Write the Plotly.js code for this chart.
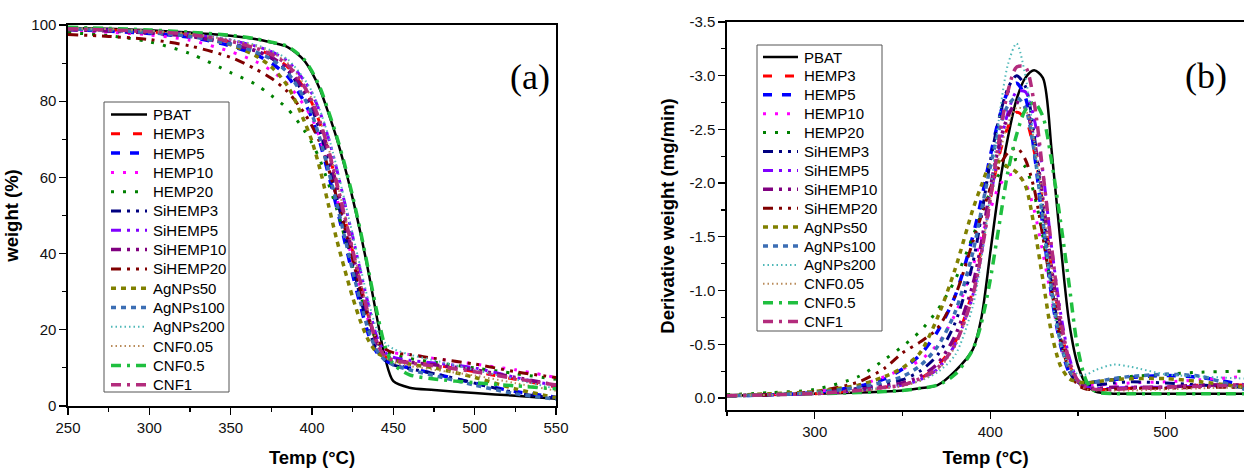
<!DOCTYPE html>
<html><head><meta charset="utf-8">
<script src="https://cdn.plot.ly/plotly-3.0.1.min.js"></script>
<style>html,body{margin:0;padding:0;background:#fff;} #chart{width:1244px;height:468px;}</style>
</head><body><div id="chart"></div>
<script>
// ---------------- data ----------------
const seriesNames = ['PBAT','HEMP3','HEMP5','HEMP10','HEMP20','SiHEMP3','SiHEMP5','SiHEMP10','SiHEMP20','AgNPs50','AgNPs100','AgNPs200','CNF0.05','CNF0.5','CNF1'];

// (a) TGA: weight (%) vs temperature (°C)
const tgaTemp = [250,275,300,325,350,365,375,385,395,400,405,410,415,420,425,430,435,440,445,450,460,475,500,525,550];
const tgaPBAT     = [99.2,99.0,98.6,98.0,97.2, 96.3,95.4,94.2,90.8,87.5, 83,77,70.5,63,54.5, 45,34.5,23,12.5,6.5, 4.8,4.2,3.4,2.7,1.9];
const tgaHEMP3    = [99,98.7,98.2,97.4,95.5, 93.8,92,89,83.5,79.5, 74,67,58.5,49.5,40.5, 31.5,23,16.5,13,12, 11.5,10.8,9,7,5];
const tgaHEMP5    = [98.8,98.4,97.8,96.8,94.5, 92.3,90,86.5,80,75.5, 69,61,52.5,43.5,34.5, 26,18.5,14,12,11, 10,8.5,6,3.8,2.3];
const tgaHEMP10   = [98.6,98.1,97.4,96,93, 90.5,88,84.5,79,75.5, 70,63,55,46.5,38, 29.5,22,17,14.8,14, 13.5,12.5,11,9.5,7.5];
const tgaHEMP20   = [98,97.2,95.6,92.5,87.5, 84.5,81.5,78,72.5,69, 64.5,58.5,52,44.5,36.5, 29,22,17,14.5,13.5, 12.5,11.5,10,8.5,7];
const tgaSiHEMP3  = [99,98.6,98.1,97.2,95.2, 93.3,91.3,88,82,78, 72,64,55,46,37, 28,20,14.5,12,10.8, 9.8,8.5,6,3.5,2];
const tgaSiHEMP5  = [99,98.7,98.3,97.6,96, 94.5,93,90.5,85.5,82, 77,70.5,62.5,53.5,44.5, 35,26,18,14,12.8, 12,11.3,10,7.5,5.3];
const tgaSiHEMP10 = [98.8,98.4,97.9,97,95, 93.3,91.5,88.5,83,79, 73.5,66.5,58,49,40, 31,23,16.5,13.2,12.2, 11.5,10.8,9.5,7.5,5.5];
const tgaSiHEMP20 = [97.5,97,96.2,94.5,91.5, 88.5,86,82.5,77,73.5, 69,62.5,55,47,38.5, 30,22.5,17.5,15,14, 13.5,12.5,11,9,7.5];
const tgaAgNPs50  = [99,98.7,98.2,97.2,94.8, 92,89,84,75,69.5, 62,53,44,36,28.5, 22,17,14,12.8,12, 11,10,7.5,4.5,2.2];
const tgaAgNPs100 = [99,98.6,98,97,95, 93,91,87.5,81,76.5, 70,62,53.5,44.5,35.5, 27,19.5,14.5,12,10.8, 9.5,8,5.5,3.2,1.8];
const tgaAgNPs200 = [99.2,98.9,98.5,97.8,96.2, 94.8,93.3,91,86,82.5, 77.5,71,63,54,45, 36,27,20,16.5,15, 13.5,12,9.5,7,4.5];
const tgaCNF005   = [99.2,98.9,98.4,97.7,96, 94.5,92.8,90,84.5,80.5, 75,68,59.5,50.5,41.5, 32.5,24,17,13,11.5, 10.5,9.5,8,6,4];
const tgaCNF05    = [99.4,99.1,98.7,98.1,97.3, 96.4,95.5,94.4,91,87.8, 83.5,77.5,71,63.5,55, 45.5,35,24.5,15.5,11, 8.2,7.1,6.1,5.3,4.5];
const tgaCNF1     = [99,98.7,98.3,97.5,95.7, 94,92.3,89.5,84,80, 74.5,67.5,59,50,41, 32,23.5,16.5,13,12, 11.3,10.5,9,7.2,5.5];

// (b) DTG: derivative weight (mg/min) vs temperature (°C)
const dtgTemp = [250,275,300,325,340,350,360,370,380,390,395,400,405,410,415,420,425,430,435,440,445,450,455,460,470,480,500,520,545];
const dtgPBAT     = [-0.02,-0.03,-0.04,-0.05,-0.06, -0.07,-0.09,-0.12,-0.25,-0.45, -0.75,-1.35,-1.95,-2.42,-2.78, -2.98,-3.05,-2.98,-2.3,-1.45, -0.7,-0.3,-0.12,-0.06,-0.04, -0.04,-0.04,-0.04,-0.04];
const dtgHEMP3    = [-0.02,-0.03,-0.04,-0.07,-0.1, -0.12,-0.18,-0.3,-0.52,-1.0, -1.4,-1.85,-2.25,-2.52,-2.66, -2.6,-2.3,-1.8,-1.2,-0.68, -0.32,-0.14,-0.09,-0.08,-0.08, -0.09,-0.1,-0.12,-0.12];
const dtgHEMP5    = [-0.02,-0.03,-0.05,-0.11,-0.18, -0.27,-0.4,-0.62,-0.95,-1.5, -1.85,-2.25,-2.6,-2.85,-2.93, -2.8,-2.3,-1.6,-0.95,-0.5, -0.24,-0.15,-0.14,-0.15,-0.17, -0.19,-0.21,-0.19,-0.12];
const dtgHEMP10   = [-0.02,-0.04,-0.06,-0.12,-0.2, -0.27,-0.35,-0.5,-0.78,-1.22, -1.5,-1.75,-1.97,-2.07,-2.08, -2.0,-1.75,-1.35,-0.92,-0.52, -0.26,-0.15,-0.13,-0.12,-0.13, -0.14,-0.15,-0.17,-0.2];
const dtgHEMP20   = [-0.03,-0.05,-0.08,-0.2,-0.36, -0.48,-0.62,-0.82,-1.1,-1.5, -1.72,-1.92,-2.08,-2.18,-2.22, -2.15,-1.9,-1.5,-1.0,-0.58, -0.3,-0.17,-0.14,-0.15,-0.18, -0.2,-0.22,-0.24,-0.25];
const dtgSiHEMP3  = [-0.02,-0.03,-0.05,-0.09,-0.13, -0.17,-0.25,-0.4,-0.7,-1.25, -1.7,-2.2,-2.6,-2.88,-3.0, -2.9,-2.45,-1.75,-1.05,-0.55, -0.25,-0.14,-0.12,-0.12,-0.14, -0.15,-0.14,-0.12,-0.1];
const dtgSiHEMP5  = [-0.02,-0.03,-0.04,-0.07,-0.1, -0.12,-0.17,-0.27,-0.5,-0.95, -1.35,-1.85,-2.3,-2.65,-2.85, -2.85,-2.6,-2.1,-1.4,-0.8, -0.38,-0.16,-0.1,-0.09,-0.09, -0.1,-0.1,-0.11,-0.12];
const dtgSiHEMP10 = [-0.02,-0.03,-0.05,-0.08,-0.11, -0.14,-0.2,-0.32,-0.58,-1.05, -1.45,-1.95,-2.35,-2.62,-2.75, -2.7,-2.4,-1.85,-1.2,-0.68, -0.32,-0.15,-0.1,-0.09,-0.1, -0.1,-0.1,-0.12,-0.12];
const dtgSiHEMP20 = [-0.02,-0.03,-0.06,-0.15,-0.28, -0.42,-0.52,-0.65,-0.95,-1.45, -1.7,-1.95,-2.15,-2.28,-2.33, -2.22,-1.95,-1.5,-1.0,-0.55, -0.26,-0.12,-0.08,-0.08,-0.08, -0.09,-0.09,-0.1,-0.1];
const dtgAgNPs50  = [-0.02,-0.04,-0.06,-0.12,-0.2, -0.28,-0.42,-0.75,-1.2,-1.75, -1.98,-2.17,-2.2,-2.15,-2.1, -1.98,-1.6,-1.1,-0.6,-0.3, -0.18,-0.15,-0.14,-0.15,-0.17, -0.18,-0.18,-0.15,-0.1];
const dtgAgNPs100 = [-0.02,-0.03,-0.05,-0.1,-0.15, -0.2,-0.3,-0.48,-0.8,-1.35, -1.75,-2.15,-2.5,-2.72,-2.8, -2.7,-2.3,-1.65,-1.0,-0.52, -0.26,-0.16,-0.14,-0.15,-0.18, -0.2,-0.22,-0.2,-0.08];
const dtgAgNPs200 = [-0.02,-0.03,-0.05,-0.07,-0.1, -0.12,-0.16,-0.24,-0.4,-0.85, -1.3,-1.9,-2.6,-3.1,-3.3, -3.0,-2.4,-1.65,-0.95,-0.5, -0.3,-0.22,-0.22,-0.26,-0.31, -0.29,-0.22,-0.2,-0.18];
const dtgCNF005   = [-0.02,-0.03,-0.04,-0.06,-0.09, -0.11,-0.16,-0.26,-0.48,-0.95, -1.35,-1.85,-2.25,-2.55,-2.7, -2.68,-2.4,-1.85,-1.2,-0.65, -0.3,-0.14,-0.08,-0.07,-0.07, -0.07,-0.08,-0.09,-0.1];
const dtgCNF05    = [-0.02,-0.03,-0.04,-0.05,-0.06, -0.07,-0.09,-0.12,-0.22,-0.45, -0.7,-1.1,-1.6,-2.1,-2.45, -2.68,-2.75,-2.62,-2.2,-1.65, -1.05,-0.45,-0.15,-0.06,-0.04, -0.04,-0.04,-0.04,-0.04];
const dtgCNF1     = [-0.02,-0.03,-0.04,-0.07,-0.1, -0.12,-0.18,-0.28,-0.5,-0.95, -1.35,-1.85,-2.4,-2.85,-3.08, -3.08,-2.75,-2.1,-1.4,-0.75, -0.35,-0.16,-0.1,-0.08,-0.08, -0.09,-0.1,-0.11,-0.12];

// tick labels
const xTicksA = [250,300,350,400,450,500,550];
const yTicksA = [0,20,40,60,80,100];
const xTicksB = [300,400,500];
const yTicksB = [0,-0.5,-1.0,-1.5,-2.0,-2.5,-3.0,-3.5];
const yTickTextB = ['0.0','-0.5','-1.0','-1.5','-2.0','-2.5','-3.0','-3.5'];

const tgaData = [tgaPBAT,tgaHEMP3,tgaHEMP5,tgaHEMP10,tgaHEMP20,tgaSiHEMP3,tgaSiHEMP5,tgaSiHEMP10,tgaSiHEMP20,tgaAgNPs50,tgaAgNPs100,tgaAgNPs200,tgaCNF005,tgaCNF05,tgaCNF1];
const dtgData = [dtgPBAT,dtgHEMP3,dtgHEMP5,dtgHEMP10,dtgHEMP20,dtgSiHEMP3,dtgSiHEMP5,dtgSiHEMP10,dtgSiHEMP20,dtgAgNPs50,dtgAgNPs100,dtgAgNPs200,dtgCNF005,dtgCNF05,dtgCNF1];

// ---------------- styles ----------------
const colors = ['#000000','#ff0000','#0000ff','#ff00ff','#008000','#000080','#8000ff','#800080','#800000','#808000','#3c6eb4','#4fb8b8','#b98b5a','#1fbf3f','#b32c7d'];
const ddp = '10px,6px,3px,6px,3px,6px';
const dashes = ['solid','9px,13px','9px,10px','3px,9px','3px,9px',ddp,ddp,ddp,ddp,'5px,5px','5px,5px','1.5px,3px','1.5px,3px','10px,6px,3px,6px','10px,6px,3px,6px'];
const widths = [2.5,3,3.5,3,3,3,3,3.5,3,3.5,3.5,2,2,3.5,3.5];

const W = 1244, H = 468;
const FONT = 'Arial, "Liberation Sans", sans-serif';
const px = v => v / W;
const py = v => 1 - v / H;

const traces = [];
seriesNames.forEach((nm, i) => {
  const line = {color: colors[i], width: widths[i], dash: dashes[i], shape: 'spline', smoothing: 0.8};
  traces.push({type: 'scatter', mode: 'lines', name: nm, x: tgaTemp, y: tgaData[i], xaxis: 'x', yaxis: 'y', line: line, showlegend: false});
  traces.push({type: 'scatter', mode: 'lines', name: nm, x: dtgTemp, y: dtgData[i], xaxis: 'x2', yaxis: 'y2', line: line, showlegend: false});
});

// manual legends (boxed, Origin style)
const shapes = [], annotations = [];
function addLegend(box, row0, step, lx0, lx1, tx) {
  shapes.push({type: 'rect', xref: 'paper', yref: 'paper', x0: px(box[0]), x1: px(box[1]), y0: py(box[2]), y1: py(box[3]),
               line: {color: '#555', width: 1}, fillcolor: 'rgba(255,255,255,1)', layer: 'above'});
  seriesNames.forEach((nm, i) => {
    const y = row0 + i * step;
    shapes.push({type: 'line', xref: 'paper', yref: 'paper', x0: px(lx0), x1: px(lx1), y0: py(y), y1: py(y),
                 line: {color: colors[i], width: widths[i], dash: dashes[i]}, layer: 'above'});
    annotations.push({xref: 'paper', yref: 'paper', x: px(tx), y: py(y), text: nm, showarrow: false,
                      xanchor: 'left', yanchor: 'middle', font: {family: FONT, size: 15, color: '#000'}});
  });
}
addLegend([104, 229, 102, 392], 114.5, 19.3, 111, 147, 151);
addLegend([757, 882, 45, 331], 57, 18.9, 763, 798, 802);

annotations.push({xref: 'paper', yref: 'paper', x: px(530), y: py(77), text: '(a)', showarrow: false, xanchor: 'center', yanchor: 'middle',
                  font: {family: '"Times New Roman", "Liberation Serif", serif', size: 36, color: '#000'}});
annotations.push({xref: 'paper', yref: 'paper', x: px(1206), y: py(76), text: '(b)', showarrow: false, xanchor: 'center', yanchor: 'middle',
                  font: {family: '"Times New Roman", "Liberation Serif", serif', size: 36, color: '#000'}});

const tickFont = {family: FONT, size: 15, color: '#111'};
const titleFont = {family: FONT, size: 18.5, color: '#000', weight: 'bold'};
const axBase = {showgrid: false, zeroline: false, showline: true, linecolor: '#000', linewidth: 1.6,
                ticks: 'outside', ticklen: 7, tickwidth: 1.3, tickcolor: '#000', tickfont: tickFont, automargin: false};

const layout = {
  width: W, height: H, margin: {l: 0, r: 0, t: 0, b: 0},
  paper_bgcolor: '#fff', plot_bgcolor: '#fff', showlegend: false,
  xaxis: Object.assign({}, axBase, {domain: [px(68), px(556)], range: [250, 550], tickmode: 'array', tickvals: xTicksA,
          mirror: true, anchor: 'y', minor: {dtick: 25, tick0: 250, ticklen: 4, tickwidth: 1.2, tickcolor: '#000', ticks: 'outside'},
          title: {text: 'Temp (°C)', font: titleFont, standoff: 20}}),
  yaxis: Object.assign({}, axBase, {domain: [py(406), py(25)], range: [0, 100], tickmode: 'array', tickvals: yTicksA,
          mirror: true, anchor: 'x', minor: {dtick: 10, tick0: 0, ticklen: 4, tickwidth: 1.2, tickcolor: '#000', ticks: 'outside'},
          title: {text: 'weight (%)', font: titleFont, standoff: 8}}),
  xaxis2: Object.assign({}, axBase, {domain: [px(727), 1], range: [250, 544.6], tickmode: 'array', tickvals: xTicksB,
          mirror: true, anchor: 'y2', minor: {dtick: 50, tick0: 250, ticklen: 4, tickwidth: 1.2, tickcolor: '#000', ticks: 'outside'},
          title: {text: 'Temp (°C)', font: titleFont, standoff: 20}}),
  yaxis2: Object.assign({}, axBase, {domain: [py(410), py(22)], range: [0.112, -3.5], tickmode: 'array', tickvals: yTicksB, ticktext: yTickTextB,
          mirror: false, anchor: 'x2', minor: {dtick: 0.25, tick0: 0, ticklen: 4, tickwidth: 1.2, tickcolor: '#000', ticks: 'outside'},
          title: {text: 'Derivative weight (mg/min)', font: titleFont, standoff: 10}}),
  shapes: shapes,
  annotations: annotations
};

Plotly.newPlot('chart', traces, layout, {staticPlot: true, displayModeBar: false});
</script></body></html>
